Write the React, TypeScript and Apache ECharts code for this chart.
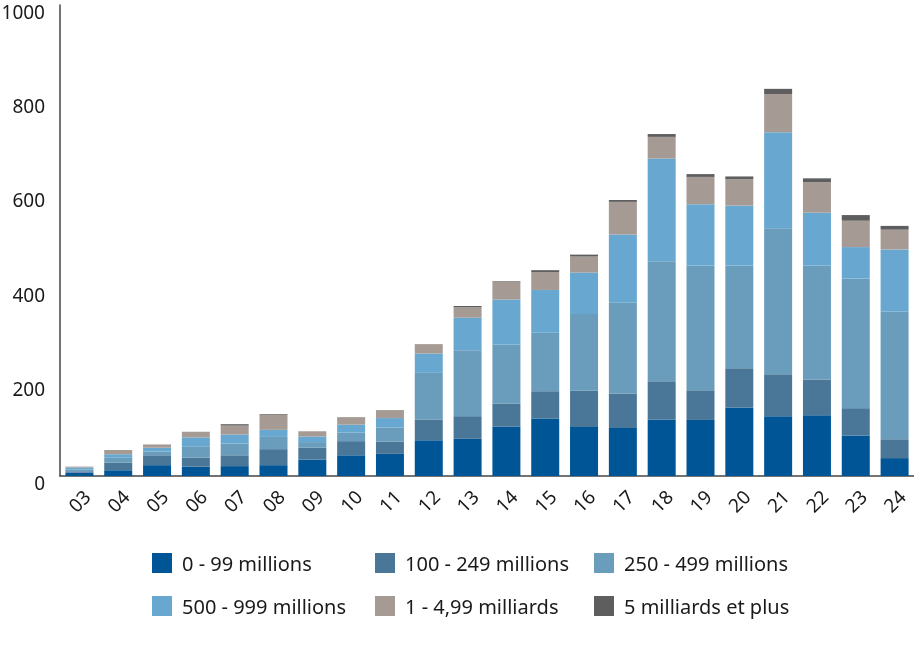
import React, { useEffect, useRef } from 'react';
import * as echarts from 'echarts';

// années (2003 - 2024)
const categories = ['03', '04', '05', '06', '07', '08', '09', '10', '11', '12', '13', '14', '15', '16', '17', '18', '19', '20', '21', '22', '23', '24'];

const yTicks = [0, 200, 400, 600, 800, 1000];

const seriesNames = [
  '0 - 99 millions',
  '100 - 249 millions',
  '250 - 499 millions',
  '500 - 999 millions',
  '1 - 4,99 milliards',
  '5 milliards et plus',
];

const s0to99 = [7, 12, 23, 20, 21, 23, 35, 44, 47, 76, 79, 105, 122, 104, 102, 120, 119, 145, 127, 129, 86, 38];
const s100to249 = [3, 16, 21, 19, 23, 34, 25, 30, 26, 44, 48, 49, 58, 77, 73, 81, 63, 84, 89, 76, 58, 40];
const s250to499 = [4, 11, 8, 23, 25, 26, 12, 18, 30, 99, 140, 125, 124, 163, 193, 255, 265, 218, 310, 242, 275, 271];
const s500to999 = [4, 7, 8, 20, 19, 15, 12, 17, 20, 41, 69, 96, 91, 88, 145, 218, 130, 127, 204, 112, 67, 132];
const s1to5md = [2, 9, 7, 12, 19, 32, 11, 16, 17, 20, 22, 38, 38, 34, 69, 46, 58, 56, 81, 65, 56, 42];
const s5mdPlus = [0, 0, 0, 0, 3, 1.5, 0, 0, 0, 0, 3, 1, 4, 4, 4, 6, 6, 6, 11, 8, 12, 8];

const seriesData = [s0to99, s100to249, s250to499, s500to999, s1to5md, s5mdPlus];
const colors = ['#005596', '#4a7797', '#6a9dbb', '#68a8d0', '#a59b94', '#5e5e5e'];

const FONT = '"Noto Sans", "Open Sans", sans-serif';

const App: React.FC = () => {
  const chartRef = useRef<HTMLDivElement>(null);

  useEffect(() => {
    if (!chartRef.current) return;
    const chart = echarts.init(chartRef.current, undefined, { renderer: 'svg' });

    // légende en 3 colonnes de 2 éléments
    const legendCol = (left: number, names: string[]) => ({
      orient: 'vertical' as const,
      left,
      top: 553,
      padding: 0,
      itemWidth: 20,
      itemHeight: 20,
      itemGap: 23,
      icon: 'rect',
      selectedMode: false,
      data: names,
      textStyle: {
        fontFamily: FONT,
        fontSize: 20,
        color: '#1a1a1a',
        padding: [0, 0, 0, 5],
      },
    });

    chart.setOption({
      animation: false,
      color: colors,
      grid: { left: 60, right: 0, top: 5, bottom: 173, containLabel: false, outerBoundsMode: 'none' },
      legend: [
        legendCol(152, [seriesNames[0], seriesNames[3]]),
        legendCol(375, [seriesNames[1], seriesNames[4]]),
        legendCol(594, [seriesNames[2], seriesNames[5]]),
      ],
      xAxis: {
        type: 'category',
        data: categories,
        axisLine: { lineStyle: { color: '#444', width: 1.5 } },
        axisTick: { show: false },
        axisLabel: {
          rotate: 45,
          align: 'center',
          verticalAlign: 'middle',
          margin: 25,
          fontFamily: FONT,
          fontSize: 19,
          color: '#1a1a1a',
        },
      },
      yAxis: {
        type: 'value',
        min: yTicks[0],
        max: yTicks[yTicks.length - 1],
        interval: 200,
        splitLine: { show: false },
        axisTick: { show: false },
        axisLine: { show: true, lineStyle: { color: '#444', width: 1.5 } },
        axisLabel: {
          margin: 15,
          formatter: (v: number) => '{t|' + v + '}',
          rich: {
            t: {
              padding: [14, 0, 0, 0],
              fontFamily: FONT,
              fontSize: 19,
              color: '#1a1a1a',
            },
          },
        },
      },
      series: seriesNames.map((name, i) => ({
        name,
        type: 'bar',
        stack: 'total',
        barWidth: 28,
        data: seriesData[i],
        itemStyle: { color: colors[i] },
      })),
    });

    return () => {
      chart.dispose();
    };
  }, []);

  return (
    <div
      ref={chartRef}
      style={{ position: 'fixed', left: 0, top: 0, width: 914, height: 649 }}
    />
  );
};

export default App;
